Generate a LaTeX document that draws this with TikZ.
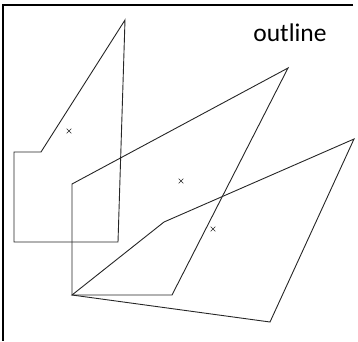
\documentclass[tikz,border=0pt]{standalone}
\usepackage{fontspec}
\setmainfont{Carlito}
\usetikzlibrary{shapes.misc}
\begin{document}
\begin{tikzpicture}[x=1pt,y=-1pt,
  shapeline/.style={draw=black!85,line width=0.9pt,line join=miter},
  framel/.style={draw=black,line width=1.4pt},
  markx/.style={cross out,draw=black!85,line width=0.6pt,minimum size=4pt,inner sep=0pt},
  lbl/.style={font=\fontsize{25.5}{29}\selectfont,anchor=base,inner sep=0pt}]
\useasboundingbox (0,0) rectangle (358,341);
% frame (top and left edges)
\coordinate (ftr) at (353,5);
\coordinate (ftl) at (3,5);
\coordinate (fbl) at (3,341);
\draw[framel] (ftr) -- (ftl) -- (fbl);
% shape 1
\coordinate (a1) at (125,20);
\coordinate (a2) at (41,152);
\coordinate (a3) at (14,152);
\coordinate (a4) at (14,242);
\coordinate (a5) at (118,242);
\draw[shapeline] (a1) -- (a2) -- (a3) -- (a4) -- (a5) -- cycle;
% shape 2
\coordinate (b1) at (72,184);
\coordinate (b2) at (288,68);
\coordinate (b3) at (172,295);
\coordinate (b4) at (72,295);
\draw[shapeline] (b1) -- (b2) -- (b3) -- (b4) -- cycle;
% shape 3
\coordinate (c1) at (72,295);
\coordinate (c2) at (164,222);
\coordinate (c3) at (354,139);
\coordinate (c4) at (270,322);
\draw[shapeline] (c1) -- (c2) -- (c3) -- (c4) -- cycle;
% centroid markers
\node[markx] (m1) at (69,131) {};
\node[markx] (m2) at (181,181) {};
\node[markx] (m3) at (213,229) {};
% label
\node[lbl] (t) at (290,41) {outline};
\end{tikzpicture}
\end{document}
